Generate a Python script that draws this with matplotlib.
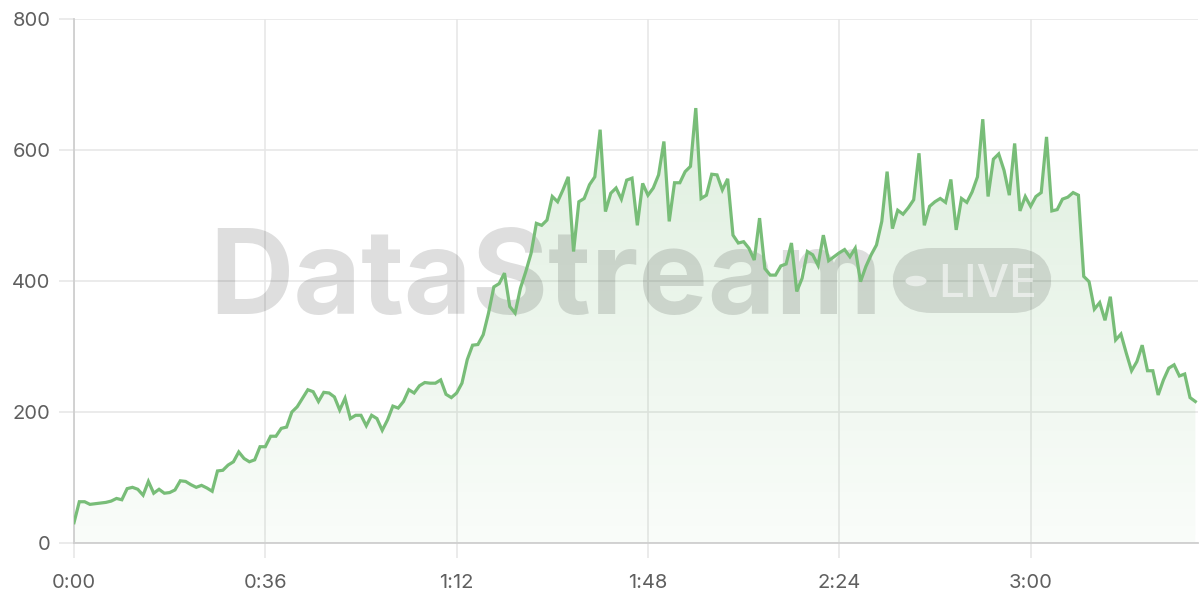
import matplotlib
matplotlib.use("Agg")
import matplotlib.pyplot as plt
import numpy as np
from matplotlib.patches import FancyBboxPatch, Circle
from matplotlib.colors import LinearSegmentedColormap

# ---- data (seconds, value) ----
seconds = list(range(0, 212))
values = [
    31, 63, 63, 59, 60, 61, 62, 64, 68, 66,
    83, 85, 82, 73, 94, 76, 82, 76, 77, 81,
    95, 94, 89, 85, 88, 84, 79, 110, 111, 119,
    124, 139, 129, 124, 127, 147, 147, 163, 163, 175,
    177, 200, 208, 221, 234, 231, 216, 230, 229, 223,
    203, 221, 190, 195, 195, 179, 195, 190, 172, 188,
    209, 206, 216, 234, 229, 240, 245, 244, 244, 249,
    227, 222, 229, 244, 280, 302, 303, 318, 351, 391,
    396, 412, 361, 351, 389, 414, 442, 488, 485, 493,
    529, 521, 539, 559, 445, 521, 526, 547, 559, 631,
    506, 534, 542, 525, 554, 557, 485, 549, 531, 542,
    562, 613, 491, 550, 550, 567, 575, 664, 526, 531,
    563, 562, 539, 556, 470, 458, 460, 450, 432, 496,
    419, 409, 409, 423, 426, 458, 384, 404, 445, 440,
    424, 470, 431, 437, 443, 448, 437, 450, 399, 422,
    440, 455, 491, 567, 480, 508, 502, 512, 524, 595,
    485, 514, 521, 526, 520, 555, 478, 526, 520, 536,
    559, 647, 529, 586, 594, 569, 531, 610, 507, 529,
    514, 529, 535, 620, 507, 509, 525, 528, 535, 531,
    407, 399, 357, 367, 340, 376, 310, 319, 290, 263,
    277, 302, 263, 263, 226, 249, 267, 272, 255, 258,
    222, 216,
]
x_ticks = [0, 36, 72, 108, 144, 180]
x_tick_labels = ["0:00", "0:36", "1:12", "1:48", "2:24", "3:00"]
y_ticks = [0, 200, 400, 600, 800]
y_tick_labels = ["0", "200", "400", "600", "800"]

plt.rcParams['font.family'] = ['Inter', 'DejaVu Sans']

fig = plt.figure(figsize=(12, 6), dpi=100)
ax = fig.add_axes([74 / 1200, 1 - 543 / 600, (1198 - 74) / 1200, (543 - 19) / 600])

x = np.array(seconds, dtype=float)
y = np.array(values, dtype=float)

line_color = "#78bd78"

# gradient fill
poly = ax.fill_between(x, y, 0, color="none", linewidth=0, zorder=1)
cmap = LinearSegmentedColormap.from_list(
    "g", [(0.47, 0.74, 0.47, 0.04), (0.47, 0.74, 0.47, 0.24)])
grad = np.linspace(0, 1, 256).reshape(-1, 1)
im = ax.imshow(grad, extent=[x[0], x[-1], 0, 680], origin="lower",
               aspect="auto", cmap=cmap, zorder=1, interpolation="bicubic")
path = poly.get_paths()[0]
im.set_clip_path(path, transform=ax.transData)

ax.plot(x, y, color=line_color, linewidth=2.3, zorder=4,
        solid_joinstyle="miter")

ax.set_xlim(0, 211.5)
ax.set_ylim(0, 800)
ax.set_xticks(x_ticks)
ax.set_xticklabels(x_tick_labels)
ax.set_yticks(y_ticks)
ax.set_yticklabels(y_tick_labels)

ax.grid(True, color="#e6e6e6", linewidth=1.1, zorder=0)
ax.set_axisbelow(True)
for s in ["top", "right"]:
    ax.spines[s].set_visible(False)
for s in ["left", "bottom"]:
    ax.spines[s].set_color("#cfcfcf")
    ax.spines[s].set_linewidth(1.3)
ax.tick_params(axis="both", colors="#e6e6e6", labelcolor="#5f5f5f",
               labelsize=14.5, length=11, width=1.1)
ax.tick_params(axis="y", pad=6)
ax.tick_params(axis="x", pad=11)

# watermark (drawn inside the axes so the line stays on top)
ft = fig.transFigure
ax.text(209 / 1200, 1 - 314 / 600, "DataStream", fontsize=84,
        fontweight="bold", color=(0, 0, 0, 0.13), ha="left",
        va="baseline", zorder=3, transform=ft, clip_on=False)
ax.add_patch(FancyBboxPatch(
    (892 / 1200, 1 - 313 / 600), (1052 - 892) / 1200, (313 - 248) / 600,
    boxstyle="round,pad=0,rounding_size=0.033", transform=ft,
    facecolor=(0, 0, 0, 0.12), edgecolor="none", zorder=3,
    mutation_aspect=2.0, clip_on=False))
ax.add_patch(Circle((916 / 1200, 1 - 281 / 600), 10.5 / 1200,
                    transform=ft, facecolor=(1, 1, 1, 0.55),
                    edgecolor="none", zorder=3, clip_on=False))
ax.text(938 / 1200, 1 - 297 / 600, "LIVE", fontsize=33, fontweight="medium",
        color=(1, 1, 1, 0.55), ha="left", va="baseline", zorder=3,
        transform=ft, clip_on=False)

fig.savefig("out.png", dpi=100)
